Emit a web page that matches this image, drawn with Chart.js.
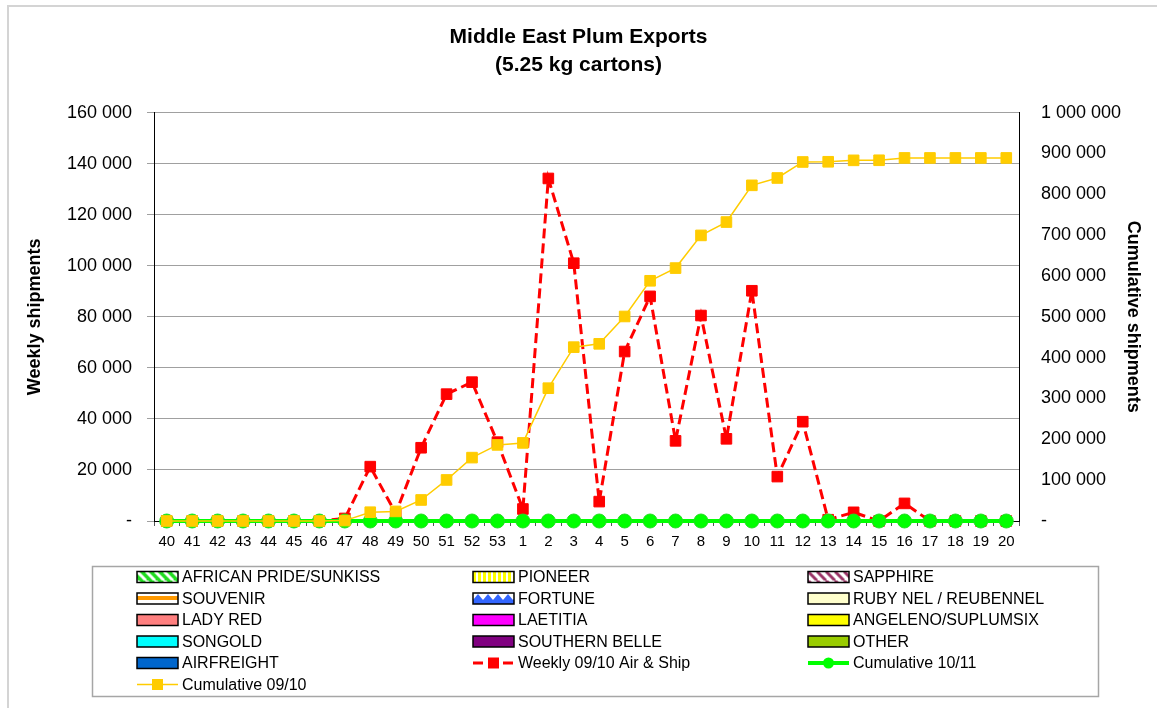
<!DOCTYPE html>
<html>
<head>
<meta charset="utf-8">
<script src="https://cdn.jsdelivr.net/npm/chart.js@4.4.1/dist/chart.umd.min.js"></script>
<style>
  html, body { margin: 0; padding: 0; background: #fff; }
  canvas { display: block; }
</style>
</head>
<body>
<canvas id="plumChart" width="1157" height="708"></canvas>
<script>
// ---------------------
// DATA
// ---------------------
const weeks = ['40', '41', '42', '43', '44', '45', '46', '47', '48', '49', '50', '51', '52', '53',
  '1', '2', '3', '4', '5', '6', '7', '8', '9', '10', '11', '12', '13', '14', '15', '16', '17', '18', '19', '20'];

const weekly0910 = [0, 0, 0, 0, 0, 0, 0, 1000, 21300, 3000, 28700, 49700, 54400, 30900,
  4700, 134200, 101000, 7600, 66400, 88000, 31400, 80500, 32200, 90200, 17400, 38900, 500, 3400, 0, 6900, 0, 0, 0, 0];

const cumulative1011 = [0, 0, 0, 0, 0, 0, 0, 0, 0, 0, 0, 0, 0, 0,
  0, 0, 0, 0, 0, 0, 0, 0, 0, 0, 0, 0, 0, 0, 0, 0, 0, 0, 0, 0];

const cumulative0910 = [0, 0, 0, 0, 0, 0, 0, 1000, 21500, 23500, 51500, 100500, 155200, 186300,
  191200, 325200, 425700, 433800, 500800, 588200, 619300, 699300, 732000, 821900, 839900, 879100,
  879600, 883100, 883300, 889000, 889000, 889000, 889000, 889000];

const varieties = ['AFRICAN PRIDE/SUNKISS', 'PIONEER', 'SAPPHIRE', 'SOUVENIR', 'FORTUNE',
  'RUBY NEL / REUBENNEL', 'LADY RED', 'LAETITIA', 'ANGELENO/SUPLUMSIX', 'SONGOLD',
  'SOUTHERN BELLE', 'OTHER', 'AIRFREIGHT'];
// weekly volumes per variety (none shipped yet this season)
const varietyWeekly = varieties.map(() => weeks.map(() => 0));

const weeklyMax = 160000;
const weeklyStep = 20000;
const cumulativeMax = 1000000;
const cumulativeStep = 100000;

// ---------------------
// PATTERNS
// ---------------------
function makePattern(w, h, draw) {
  const c = document.createElement('canvas');
  c.width = w;
  c.height = h;
  const g = c.getContext('2d');
  draw(g, w, h);
  return g.createPattern(c, 'repeat');
}

function diagonal(bg, fg, lw) {
  return makePattern(9, 9, (g, w, h) => {
    g.fillStyle = bg;
    g.fillRect(0, 0, w, h);
    g.strokeStyle = fg;
    g.lineWidth = lw;
    for (const c of [-w, 0, w]) {
      g.beginPath();
      g.moveTo(c, 0);
      g.lineTo(c + w, h);
      g.stroke();
    }
  });
}

const fills = [
  diagonal('#22dd22', '#ffffff', 3),
  makePattern(5, 4, (g) => {
    g.fillStyle = '#ffffff'; g.fillRect(0, 0, 5, 4);
    g.fillStyle = '#ffff00'; g.fillRect(0, 0, 3, 4);
  }),
  diagonal('#ffffff', '#993366', 3),
  makePattern(4, 11, (g) => {
    g.fillStyle = '#ffffff'; g.fillRect(0, 0, 4, 11);
    g.fillStyle = '#ff9900'; g.fillRect(0, 3, 4, 4);
  }),
  makePattern(10, 11, (g) => {
    g.fillStyle = '#ffffff'; g.fillRect(0, 0, 10, 11);
    g.fillStyle = '#3366ff';
    g.beginPath();
    g.moveTo(0, 7); g.lineTo(5, 1); g.lineTo(10, 7);
    g.lineTo(10, 11); g.lineTo(0, 11); g.closePath();
    g.fill();
  }),
  '#ffffcc', '#ff8080', '#ff00ff', '#ffff00', '#00ffff', '#800080', '#99cc00', '#0066cc'
];

const fmt = v => v === 0 ? '-' : v.toLocaleString('en-US').replace(/,/g, ' ');

// ---------------------
// PLUGINS
// ---------------------
const frame = {
  id: 'frame',
  beforeDraw(chart) {
    const ctx = chart.ctx;
    ctx.save();
    ctx.strokeStyle = '#d4d4d4';
    ctx.lineWidth = 2;
    ctx.beginPath();
    ctx.moveTo(8, chart.height);
    ctx.lineTo(8, 6);
    ctx.lineTo(chart.width, 6);
    ctx.stroke();
    ctx.restore();
  }
};

const boxLegend = {
  id: 'boxLegend',
  afterDraw(chart) {
    const ctx = chart.ctx;
    ctx.save();
    ctx.strokeStyle = '#a6a6a6';
    ctx.lineWidth = 1.5;
    ctx.strokeRect(92.5, 566.5, 1006, 130);

    const cols = [137, 473, 808];
    const rowY = [577, 598.5, 620, 641.5, 663, 684.5];
    const sw = 41, sh = 11;
    ctx.font = '16px "Liberation Sans", Arial, sans-serif';
    ctx.textBaseline = 'middle';
    ctx.textAlign = 'left';

    chart.data.datasets.forEach((ds, i) => {
      const x = cols[i % 3];
      const y = rowY[Math.floor(i / 3)];
      if (ds.type === 'bar') {
        ctx.save();
        ctx.translate(x, y - sh / 2);
        ctx.fillStyle = ds.backgroundColor;
        ctx.fillRect(0, 0, sw, sh);
        ctx.strokeStyle = '#000';
        ctx.lineWidth = 1.5;
        ctx.strokeRect(0, 0, sw, sh);
        ctx.restore();
      } else {
        ctx.save();
        ctx.strokeStyle = ds.borderColor;
        ctx.lineWidth = ds.borderWidth;
        ctx.setLineDash(ds.borderDash || []);
        ctx.beginPath();
        ctx.moveTo(x, y);
        ctx.lineTo(x + sw, y);
        ctx.stroke();
        ctx.setLineDash([]);
        ctx.fillStyle = ds.pointBackgroundColor;
        ctx.beginPath();
        if (ds.pointStyle === 'circle') {
          ctx.arc(x + sw / 2, y, 5.5, 0, Math.PI * 2);
        } else {
          ctx.rect(x + sw / 2 - 5.5, y - 5.5, 11, 11);
        }
        ctx.fill();
        ctx.restore();
      }
      ctx.fillStyle = '#000';
      ctx.fillText(ds.label, x + sw + 4, y + 1);
    });
    ctx.restore();
  }
};

// ---------------------
// CHART
// ---------------------
const datasets = varieties.map((name, i) => ({
  type: 'bar',
  label: name,
  data: varietyWeekly[i],
  backgroundColor: fills[i],
  borderWidth: 0,
  yAxisID: 'y',
  order: 10 + i
}));

datasets.push({
  type: 'line',
  label: 'Weekly 09/10 Air & Ship',
  data: weekly0910,
  yAxisID: 'y',
  borderColor: '#ff0000',
  borderWidth: 3,
  borderDash: [10, 5],
  pointStyle: 'rect',
  pointRadius: 7.5,
  pointBackgroundColor: '#ff0000',
  pointBorderColor: '#ff0000',
  pointBorderWidth: 1,
  tension: 0,
  clip: false,
  order: 3
});

datasets.push({
  type: 'line',
  label: 'Cumulative 10/11',
  data: cumulative1011,
  yAxisID: 'y2',
  borderColor: '#00ff00',
  borderWidth: 4,
  pointStyle: 'circle',
  pointRadius: 7,
  pointBackgroundColor: '#00ff00',
  pointBorderColor: '#22dd22',
  pointBorderWidth: 1,
  clip: false,
  order: 2
});

datasets.push({
  type: 'line',
  label: 'Cumulative 09/10',
  data: cumulative0910,
  yAxisID: 'y2',
  borderColor: '#ffcc00',
  borderWidth: 1.5,
  pointStyle: 'rect',
  pointRadius: 7.5,
  pointBackgroundColor: '#ffcc00',
  pointBorderColor: '#ffcc00',
  pointBorderWidth: 1,
  clip: false,
  order: 1
});

new Chart(document.getElementById('plumChart'), {
  type: 'bar',
  data: { labels: weeks, datasets },
  options: {
    responsive: false,
    animation: false,
    layout: { padding: { left: 0, right: 0, top: 0, bottom: 147 } },
    plugins: {
      legend: { display: false },
      tooltip: { enabled: false },
      title: {
        display: true,
        text: ['Middle East Plum Exports', '(5.25 kg cartons)'],
        color: '#000',
        font: { family: '"Liberation Sans", Arial, sans-serif', size: 21, weight: 'bold', lineHeight: 1.3 },
        padding: { top: 24, bottom: 34 }
      }
    },
    scales: {
      x: {
        offset: true,
        grid: { display: true, drawOnChartArea: false, drawTicks: true, tickLength: 5, offset: true, color: '#555' },
        border: { display: true, color: '#000', width: 1 },
        ticks: {
          color: '#000',
          padding: 7,
          maxRotation: 0,
          autoSkip: false,
          font: { family: '"Liberation Sans", Arial, sans-serif', size: 15 }
        },
        afterFit: s => { s.height = 40; }
      },
      y: {
        position: 'left',
        min: 0,
        max: weeklyMax,
        grid: { color: '#a0a0a0', tickLength: 7, drawTicks: true },
        border: { display: true, color: '#000', width: 1 },
        ticks: {
          stepSize: weeklyStep,
          color: '#000',
          padding: 15,
          font: { family: '"Liberation Sans", Arial, sans-serif', size: 18 },
          callback: v => fmt(v)
        },
        title: {
          display: true,
          text: 'Weekly shipments',
          color: '#000',
          font: { family: '"Liberation Sans", Arial, sans-serif', size: 18, weight: 'bold' },
          padding: { top: 24, bottom: 0 }
        },
        afterFit: s => { s.width = 154; }
      },
      y2: {
        position: 'right',
        min: 0,
        max: cumulativeMax,
        grid: { drawOnChartArea: false, drawTicks: false },
        border: { display: true, color: '#000', width: 1 },
        ticks: {
          stepSize: cumulativeStep,
          color: '#000',
          padding: 22,
          font: { family: '"Liberation Sans", Arial, sans-serif', size: 18 },
          callback: v => fmt(v)
        },
        title: {
          display: true,
          text: 'Cumulative shipments',
          color: '#000',
          font: { family: '"Liberation Sans", Arial, sans-serif', size: 18, weight: 'bold' },
          padding: { top: 13, bottom: 0 }
        },
        afterFit: s => { s.width = 138; }
      }
    }
  },
  plugins: [frame, boxLegend]
});
</script>
</body>
</html>
